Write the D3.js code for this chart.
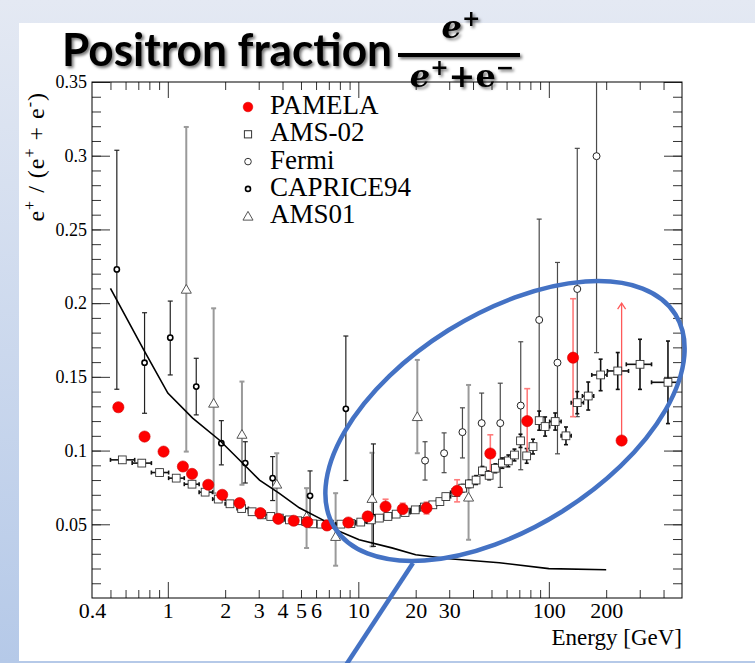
<!DOCTYPE html>
<html>
<head>
<meta charset="utf-8">
<script src="https://cdn.jsdelivr.net/npm/d3@7"></script>
<style>
html, body { margin:0; padding:0; background:#fff; }
svg { display:block; }
.axis text { font-family:"Liberation Serif","Times New Roman",serif; fill:#000; }
.axis path { display:none; }
.axis line { stroke:#333; stroke-width:1; }
</style>
</head>
<body>
<div id="chart"></div>
<script>
(function(){

/* ---------- data ---------- */
// [energy GeV, fraction, error]
const pamela = [
  [0.55,0.1294,0.002],[0.755,0.1095,0.002],[0.95,0.0993,0.002],[1.2,0.0892,0.002],
  [1.34,0.0842,0.002],[1.63,0.0768,0.002],[1.93,0.070,0.002],[2.38,0.0644,0.002],
  [3.06,0.0576,0.002],[3.8,0.0537,0.002],[4.58,0.0524,0.002],[5.4,0.0515,0.002],
  [6.85,0.0492,0.002],[8.86,0.0512,0.002],[11.2,0.0553,0.003],[13.9,0.062,0.005],
  [17.1,0.0603,0.004],[22.8,0.061,0.004],[33,0.0727,0.0075],[49.3,0.098,0.0127],
  [77,0.120,0.022],[134,0.163,0.040]
];
// PAMELA point drawn with an upward arrow: [energy, fraction, arrow top]
const pamelaArrow = [[241,0.1068,0.2]];

// [energy, fraction, error, bin low, bin high]
const ams02 = [
  [0.577,0.0937,0.002,0.50,0.67],[0.73,0.0915,0.002,0.65,0.82],[0.905,0.0851,0.002,0.82,1.01],
  [1.107,0.0813,0.0015,1.01,1.22],[1.34,0.0772,0.0015,1.22,1.46],[1.57,0.0718,0.0015,1.46,1.72],
  [1.84,0.0671,0.0015,1.72,2.0],[2.12,0.0639,0.0015,2.0,2.31],[2.44,0.0607,0.0015,2.31,2.65],
  [2.77,0.0585,0.0015,2.65,3.0],[3.11,0.0564,0.0015,3.0,3.36],[3.47,0.0553,0.0015,3.36,3.73],
  [3.85,0.0542,0.0015,3.73,4.12],[4.35,0.053,0.0015,4.12,4.54],[4.8,0.0524,0.0015,4.54,5.0],
  [5.3,0.0519,0.0015,5.0,5.49],[5.76,0.0503,0.0015,5.49,6.0],[6.38,0.0501,0.0015,6.0,6.8],
  [7.05,0.0501,0.0015,6.8,7.6],[8.1,0.0501,0.0015,7.6,8.6],[9.14,0.0505,0.0015,8.6,9.7],
  [10.3,0.0515,0.0015,9.7,11.0],[11.7,0.053,0.0015,11.0,12.3],[12.9,0.0542,0.0015,12.3,13.6],
  [14.3,0.0553,0.0015,13.6,15.0],[15.8,0.0569,0.0015,15.0,16.7],[17.6,0.058,0.0015,16.7,18.7],
  [19.9,0.0598,0.0015,18.7,21.0],[22.2,0.0617,0.002,21.0,23.4],[24.6,0.0632,0.002,23.4,25.7],
  [26.8,0.0654,0.002,25.7,27.8],[28.8,0.0688,0.002,27.8,30.5],[32.5,0.0716,0.0025,30.5,34.0],
  [35.3,0.0745,0.0025,34.0,36.8],[38.3,0.0774,0.0025,36.8,40.0],[41.5,0.080,0.003,40.0,43.0],
  [44.8,0.0862,0.003,43.0,46.6],[48.6,0.0832,0.003,46.6,50.4],[52.4,0.088,0.003,50.4,54.6],
  [57,0.0915,0.0035,54.6,59.2],[61.3,0.093,0.004,59.2,63.6],[66,0.097,0.004,63.6,68.5],
  [71,0.1066,0.0045,68.5,73.7],[76.5,0.0964,0.005,73.7,79.5],[82.6,0.1027,0.005,79.5,85.8],
  [89,0.1203,0.0065,85.8,92.2],[95.6,0.1163,0.0065,92.2,101],[108,0.1197,0.0058,101,116],
  [123,0.110,0.006,116,131],[141,0.1325,0.0075,131,152],[161,0.137,0.0095,150,172],
  [187,0.1513,0.0107,168,202],[230,0.154,0.0125,203,262],[301,0.1585,0.017,255,346],
  [422,0.1463,0.028,346,480]
];

// [energy, fraction, low, high]
const fermi = [
  [22.4,0.0932,0.080,0.106],[28.2,0.0982,0.085,0.112],[35.2,0.1125,0.095,0.129],
  [44.4,0.1186,0.085,0.139],[55.6,0.1186,0.075,0.1457],[71.2,0.1305,0.087,0.1738],
  [89,0.1886,0.1196,0.257],[111,0.1596,0.0978,0.2276],[141,0.2096,0.123,0.305],
  [178,0.2997,0.1664,0.40]
];

const caprice94 = [
  [0.54,0.2229,0.1416,0.3037],[0.755,0.1596,0.1253,0.1935],[1.03,0.1766,0.1513,0.2014],
  [1.41,0.1434,0.1242,0.1626],[1.91,0.105,0.0903,0.1203],[2.55,0.0915,0.078,0.106],
  [3.55,0.0813,0.0661,0.0959],[5.58,0.0693,0.053,0.0862],[8.6,0.1283,0.0797,0.1777],
  [12.0,0.0549,0.035,0.1045]
];

const ams01 = [
  [1.25,0.2094,0.0993,0.3195],[1.74,0.1321,0.0711,0.1965],[2.45,0.111,0.0768,0.1468],
  [3.73,0.0772,0.055,0.0982],[5.35,0.0553,0.0339,0.0745],[7.6,0.0417,0.0219,0.0711],
  [11.8,0.0675,0.035,0.0985],[20.4,0.123,0.0982,0.1615],[37.9,0.0684,0.0395,0.1445]
];

// secondary production curve [energy, fraction]
const secondary = [
  [0.5,0.21],[0.75,0.168],[1,0.139],[1.35,0.122],[1.87,0.107],[2.58,0.089],[3.03,0.080],
  [3.85,0.071],[4.9,0.0612],[6.5,0.053],[7.6,0.0463],[10.1,0.0395],[15,0.034],[20,0.0293],
  [30,0.0266],[55,0.0239],[100,0.0199],[200,0.0192]
];

const legendNames = ["PAMELA","AMS-02","Fermi","CAPRICE94","AMS01"];
const xMajor = [1,10,100];
const xMinor = [0.5,0.6,0.7,0.8,0.9,2,3,4,5,6,7,8,9,20,30,40,50,60,70,80,90,200,300,400];
const xLabels = [0.4,1,2,3,4,5,6,10,20,30,100,200];
const yMajor = [0.05,0.1,0.15,0.2,0.25,0.3,0.35];
const yMinor = d3.range(1,35).map(i => i/100);

/* ---------- svg ---------- */
const W = 755, H = 663;
const svg = d3.select("#chart").append("svg").attr("width",W).attr("height",H);
const defs = svg.append("defs");

const bg = defs.append("linearGradient").attr("id","bg").attr("x1",0).attr("y1",0).attr("x2",0).attr("y2",1);
bg.append("stop").attr("offset","0%").attr("stop-color","#e4e9f3");
bg.append("stop").attr("offset","100%").attr("stop-color","#b5c9e8");

const sh = defs.append("filter").attr("id","shadow").attr("x","-10%").attr("y","-20%").attr("width","130%").attr("height","150%");
sh.append("feDropShadow").attr("dx",2).attr("dy",2).attr("stdDeviation",1.6)
  .attr("flood-color","#000").attr("flood-opacity",0.55);

defs.append("clipPath").attr("id","plotclip").append("rect")
  .attr("x",92).attr("y",82).attr("width",590).attr("height",516);

svg.append("rect").attr("width",W).attr("height",H).attr("fill","url(#bg)");
svg.append("rect").attr("x",19).attr("y",23).attr("width",W-19).attr("height",638).attr("fill","#fff");

/* ---------- scales ---------- */
const x = d3.scaleLog().domain([0.4,500]).range([92,682]);
const y = d3.scaleLinear().domain([0,0.35]).range([598,82]);

/* ---------- axes ---------- */
function ax(gen, tx, ty){
  return svg.append("g").attr("class","axis").attr("transform",`translate(${tx},${ty})`).call(gen);
}
ax(d3.axisBottom(x).tickValues(xMinor).tickSize(-8).tickFormat(""), 0, 598);
ax(d3.axisBottom(x).tickValues(xMajor).tickSize(-16).tickFormat(""), 0, 598);
ax(d3.axisTop(x).tickValues(xMinor).tickSize(-8).tickFormat(""), 0, 82);
ax(d3.axisTop(x).tickValues(xMajor).tickSize(-16).tickFormat(""), 0, 82);
ax(d3.axisBottom(x).tickValues(xLabels).tickSize(0).tickPadding(4).tickFormat(d => String(d)), 0, 598)
  .selectAll("text").style("font-size","22px");

ax(d3.axisLeft(y).tickValues(yMinor).tickSize(-9).tickFormat(""), 92, 0);
ax(d3.axisLeft(y).tickValues(yMajor).tickSize(-18).tickFormat(""), 92, 0);
ax(d3.axisRight(y).tickValues(yMinor).tickSize(-9).tickFormat(""), 682, 0);
ax(d3.axisRight(y).tickValues(yMajor).tickSize(-18).tickFormat(""), 682, 0);
ax(d3.axisLeft(y).tickValues(yMajor).tickSize(0).tickPadding(5).tickFormat(d => String(d)), 92, 0)
  .selectAll("text").style("font-size","18px");

svg.append("rect").attr("x",92).attr("y",82).attr("width",590).attr("height",516)
  .attr("fill","none").attr("stroke","#000").attr("stroke-width",1);

/* ---------- axis titles ---------- */
svg.append("text").attr("x",682).attr("y",645).attr("text-anchor","end")
  .style("font-family","Liberation Serif, serif").style("font-size","23px").text("Energy [GeV]");

// y title sits left of the tick labels, right-aligned to the top of the axis
const yt = svg.append("text").attr("transform","translate(44,92) rotate(-90)").attr("text-anchor","end")
  .style("font-family","Liberation Serif, serif").style("font-size","24px").style("letter-spacing","1px");
yt.append("tspan").text("e");
yt.append("tspan").attr("dy",-9).style("font-size","16px").text("+");
yt.append("tspan").attr("dy",9).text(" / (e");
yt.append("tspan").attr("dy",-9).style("font-size","16px").text("+");
yt.append("tspan").attr("dy",9).text(" + e");
yt.append("tspan").attr("dy",-9).style("font-size","16px").text("-");
yt.append("tspan").attr("dy",9).text(")");

/* ---------- data layer ---------- */
const plot = svg.append("g").attr("clip-path","url(#plotclip)");

function vbars(rows, lo, hi, color, width, cap){
  const g = plot.append("g").attr("stroke",color).attr("stroke-width",width);
  rows.forEach(r => {
    const cx = x(r[0]), y1 = y(lo(r)), y2 = y(hi(r));
    g.append("line").attr("x1",cx).attr("x2",cx).attr("y1",y1).attr("y2",y2);
    if (cap){
      g.append("line").attr("x1",cx-cap).attr("x2",cx+cap).attr("y1",y1).attr("y2",y1);
      g.append("line").attr("x1",cx-cap).attr("x2",cx+cap).attr("y1",y2).attr("y2",y2);
    }
  });
}

// AMS01 error bars (grey)
vbars(ams01, r => r[2], r => r[3], "#9a9a9a", 2, 2.5);
// Fermi error bars
vbars(fermi, r => r[2], r => r[3], "#4a4a4a", 1.2, 2.5);
// CAPRICE94 error bars
vbars(caprice94, r => r[2], r => r[3], "#222", 1.2, 2.5);
// AMS-02 error bars, vertical + horizontal
vbars(ams02, r => r[1]-r[2], r => r[1]+r[2], "#111", 1.6, 2);
const hb = plot.append("g").attr("stroke","#111").attr("stroke-width",1.6);
ams02.forEach(r => {
  const cy = y(r[1]);
  hb.append("line").attr("x1",x(r[3])).attr("x2",x(r[4])).attr("y1",cy).attr("y2",cy);
  hb.append("line").attr("x1",x(r[3])).attr("x2",x(r[3])).attr("y1",cy-2).attr("y2",cy+2);
  hb.append("line").attr("x1",x(r[4])).attr("x2",x(r[4])).attr("y1",cy-2).attr("y2",cy+2);
});
// PAMELA error bars (light red)
vbars(pamela.filter(r => r[2] > 0.0025), r => r[1]-r[2], r => r[1]+r[2], "#ff7b7b", 1.6, 3);
pamelaArrow.forEach(r => {
  const cx = x(r[0]), ty = y(r[2]);
  plot.append("line").attr("x1",cx).attr("x2",cx).attr("y1",y(r[1])).attr("y2",ty)
    .attr("stroke","#ff5a5a").attr("stroke-width",1.3);
  plot.append("path").attr("d",`M${cx-4},${ty+6}L${cx},${ty}L${cx+4},${ty+6}`)
    .attr("fill","none").attr("stroke","#ff5a5a").attr("stroke-width",1.3);
});

// markers
const tri = d3.symbol().type(d3.symbolTriangle).size(44);
plot.append("g").selectAll("path").data(ams01).join("path")
  .attr("d",tri).attr("transform",d => `translate(${x(d[0])},${y(d[1])+1})`)
  .attr("fill","#fff").attr("stroke","#555").attr("stroke-width",1);

plot.append("g").selectAll("circle").data(fermi).join("circle")
  .attr("cx",d => x(d[0])).attr("cy",d => y(d[1])).attr("r",3.5)
  .attr("fill","#fff").attr("stroke","#222").attr("stroke-width",1);

plot.append("g").selectAll("circle").data(caprice94).join("circle")
  .attr("cx",d => x(d[0])).attr("cy",d => y(d[1])).attr("r",2.6)
  .attr("fill","#fff").attr("stroke","#000").attr("stroke-width",1.6);

plot.append("g").selectAll("rect").data(ams02).join("rect")
  .attr("x",d => x(d[0])-3.9).attr("y",d => y(d[1])-3.9).attr("width",7.8).attr("height",7.8)
  .attr("fill","#fff").attr("stroke","#333").attr("stroke-width",0.9);

plot.append("path").datum(secondary)
  .attr("d",d3.line().x(d => x(d[0])).y(d => y(d[1])))
  .attr("fill","none").attr("stroke","#000").attr("stroke-width",1.6);

plot.append("g").selectAll("circle").data(pamela.concat(pamelaArrow)).join("circle")
  .attr("cx",d => x(d[0])).attr("cy",d => y(d[1])).attr("r",5.6)
  .attr("fill","#ff0000").attr("stroke","#d00000").attr("stroke-width",0.6);

/* ---------- legend ---------- */
const lg = svg.append("g");
legendNames.forEach((name,i) => {
  const ly = 107 + i*27.3, lx = 248;
  if (i === 0) lg.append("circle").attr("cx",lx).attr("cy",ly).attr("r",4.8).attr("fill","#f00").attr("stroke","#d00").attr("stroke-width",0.6);
  if (i === 1) lg.append("rect").attr("x",lx-3.6).attr("y",ly-3.6).attr("width",7.2).attr("height",7.2).attr("fill","#fff").attr("stroke","#333");
  if (i === 2) lg.append("circle").attr("cx",lx).attr("cy",ly).attr("r",3.3).attr("fill","#fff").attr("stroke","#333");
  if (i === 3) lg.append("circle").attr("cx",lx).attr("cy",ly).attr("r",2.5).attr("fill","#fff").attr("stroke","#000").attr("stroke-width",1.6);
  if (i === 4) lg.append("path").attr("d",tri).attr("transform",`translate(${lx},${ly+1})`).attr("fill","#fff").attr("stroke","#555");
  lg.append("text").attr("x",270).attr("y",ly+7)
    .style("font-family","Liberation Serif, serif").style("font-size","27px").text(name);
});

/* ---------- title ---------- */
const tg = svg.append("g").attr("filter","url(#shadow)");
tg.append("text").attr("x",62).attr("y",66).attr("textLength",330).attr("lengthAdjust","spacingAndGlyphs")
  .style("font-family","Lato, 'Open Sans', sans-serif").style("font-weight","bold").style("font-size","46px")
  .text("Positron fraction");
const fracFont = "'DejaVu Serif', 'Liberation Serif', serif";
const num = tg.append("text").attr("x",461).attr("y",38).attr("text-anchor","middle")
  .style("font-family",fracFont).style("font-style","italic").style("font-weight","bold").style("font-size","32px");
num.append("tspan").text("e");
num.append("tspan").attr("dy",-12).style("font-size","22px").text("+");
tg.append("rect").attr("x",398).attr("y",53).attr("width",122).attr("height",4).attr("fill","#000");
const den = tg.append("text").attr("x",462).attr("y",87).attr("text-anchor","middle")
  .style("font-family",fracFont).style("font-style","italic").style("font-weight","bold").style("font-size","32px");
den.append("tspan").text("e");
den.append("tspan").attr("dy",-12).style("font-size","22px").text("+");
den.append("tspan").attr("dy",12).style("font-style","normal").text("+e");
den.append("tspan").attr("dy",-12).style("font-size","22px").style("font-style","normal").text("\u2212");

/* ---------- annotation ---------- */
svg.append("ellipse").attr("cx",505).attr("cy",421).attr("rx",201).attr("ry",107)
  .attr("transform","rotate(-32,505,421)")
  .attr("fill","none").attr("stroke","#4472c4").attr("stroke-width",4.5);
svg.append("line").attr("x1",413).attr("y1",563).attr("x2",346).attr("y2",665)
  .attr("stroke","#4472c4").attr("stroke-width",4.5);

})();
</script>
</body>
</html>
